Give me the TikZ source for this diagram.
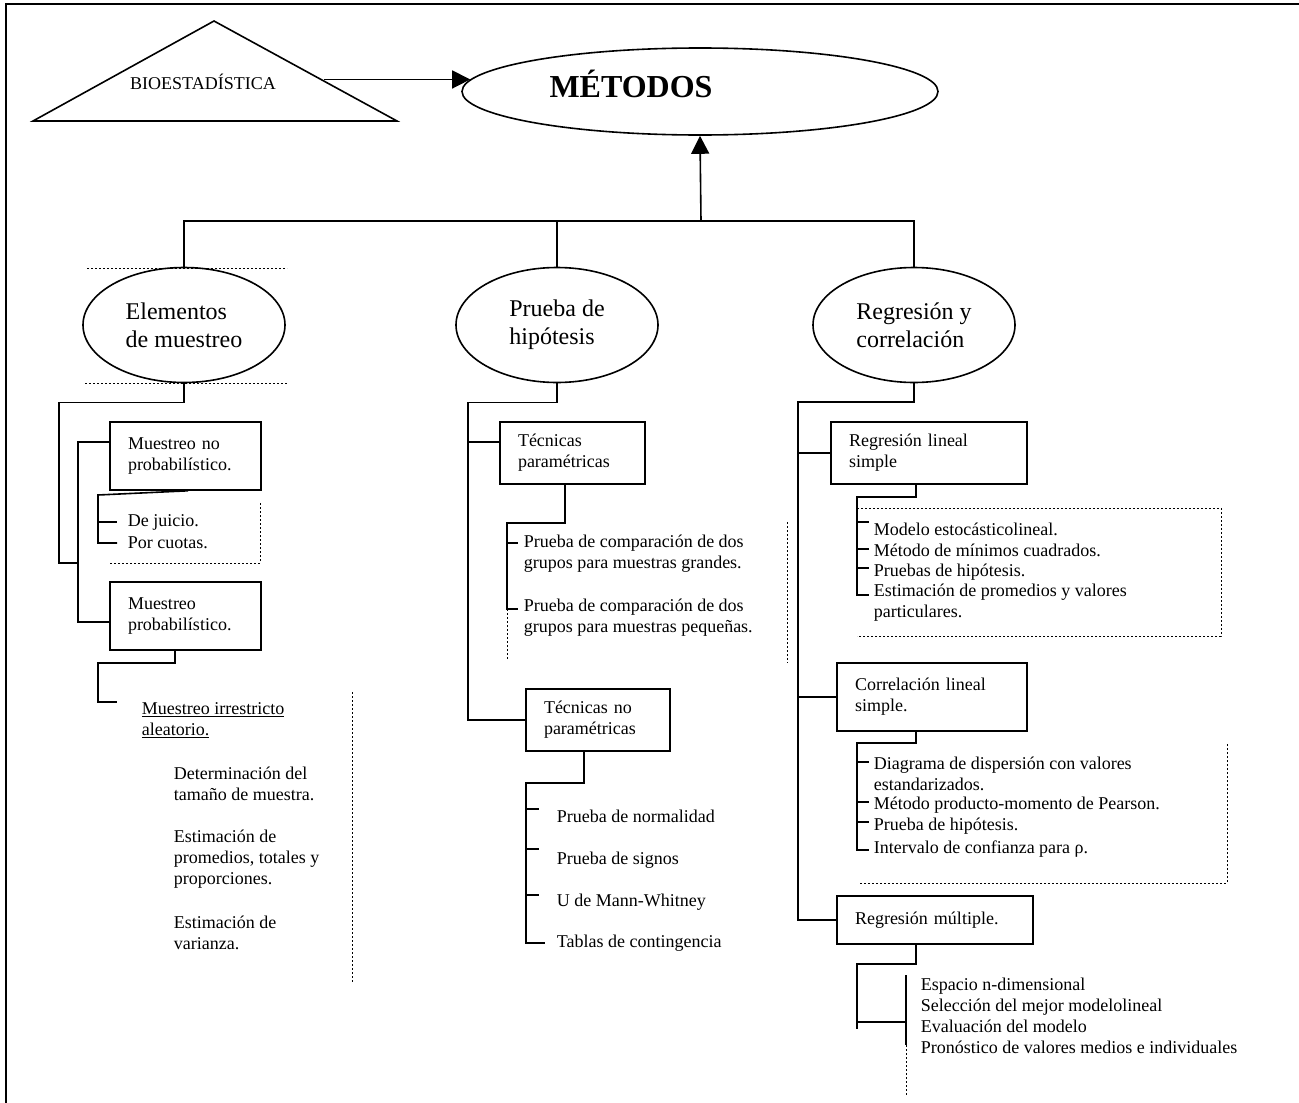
\documentclass[tikz,border=0pt]{standalone}
\usepackage{fontspec}
\setmainfont{Liberation Serif}
\usepackage{tikz}
\usetikzlibrary{arrows.meta,shapes.geometric}
\tikzset{
  oval/.style={ellipse, draw, line width=1.6pt, inner sep=0pt, align=left, minimum width=202pt, minimum height=115pt, font=\fontsize{24}{28}\selectfont},
  tbox/.style={rectangle, draw, line width=1.6pt, inner xsep=18pt, inner ysep=0pt, align=left, font=\fontsize{18}{21}\selectfont},
  item/.style={anchor=west, inner sep=0pt, align=left, font=\fontsize{18}{21}\selectfont},
  dotline/.style={line width=0.7pt, dash pattern=on 2pt off 2pt},
  arr/.style={-{Triangle[length=18pt,width=18pt]}}
}
\newcommand{\metbox}[4]{node[tbox, text width=#3, minimum height=#4](#1) {#2}}

\begin{document}
\begin{tikzpicture}[x=1pt, y=-1pt, line width=1.6pt]
\useasboundingbox (0,0) rectangle (1299,1103);
\draw[line width=2.4pt] (6,1103) -- (6,4) -- (1299,4);

% top
\draw (33,121) -- (214,21) -- (397,121) -- cycle;
\node[anchor=base, font=\fontsize{18}{20}\selectfont] (bio) at (203,89) {BIOESTADÍSTICA};
\coordinate (triR) at (324,81);
\node[ellipse, draw, minimum width=476pt, minimum height=87pt] (met) at (700,91.5) {};
\node[anchor=base, inner sep=0pt, font=\fontsize{32}{36}\selectfont\bfseries] (mettxt) at (631,97) {MÉTODOS};
\draw[arr] (met.177 -| triR) -- (met.177);

\node[oval] (elem) at (184,325) {Elementos\\de muestreo};
\node[oval] (pru) at (557,325) {Prueba de\\hipótesis};
\node[oval] (reg) at (914,325) {Regresión y\\correlación};
\coordinate (bar) at (701,221);
\draw (elem.north) |- (bar) -| (reg.north);
\draw (pru.north) -- (pru.north |- bar);
\draw[arr] (bar) -- (met.south);

% muestreo
\draw[dotline] (87,268) -- (287,268);
\draw[dotline] (85,383) -- (287,383);
\draw (185.5,456) \metbox{mnp}{Muestreo no\\probabilístico.}{115pt}{68pt};
\draw (185.5,616) \metbox{mp}{Muestreo\\probabilístico.}{115pt}{68pt};
\draw (elem.south) -- ++(0,19) -| (59,563) -- (78,563);
\draw ([yshift=14pt]mnp.west) -| (78,622) -- ([yshift=-6pt]mp.west);
\node[item] (dj) at (127,522) {De juicio.};
\node[item] (pc) at (127,543) {Por cuotas.};
\draw ([xshift=2.5pt]mnp.south) -- (98,495) |- ([xshift=-10pt]pc.west);
\draw (98,522) -- ([xshift=-10pt]dj.west);
\draw[dotline] (110,563) -| (260,502);
\draw ([xshift=-10.5pt]mp.south) -- ++(0,12) -| (98,702) -- (117,702);
\node[item] (mia) at (141,720) {\underline{Muestreo irrestricto}\\\underline{aleatorio.}};
\node[item] (dtm) at (173,783.5) {Determinación del\\tamaño de muestra.};
\node[item] (epr) at (173,859) {Estimación de\\promedios, totales y\\proporciones.};
\node[item] (evz) at (173,933) {Estimación de\\varianza.};
\draw[dotline] (352,692) -- (352,983);

% hipotesis
\draw (572.5,453) \metbox{tp}{Técnicas\\paramétricas}{109pt}{62pt};
\draw (598,720) \metbox{tnp}{Técnicas no\\paramétricas}{108pt}{62pt};
\draw (pru.south) -- ++(0,19) -| (468,720) -- (tnp.west);
\draw (468,442) -- ([yshift=11pt]tp.west);
\node[item] (pcg) at (523,554) {Prueba de comparación de dos\\grupos para muestras grandes.};
\node[item] (pcp) at (523,617.5) {Prueba de comparación de dos\\grupos para muestras pequeñas.};
\draw ([xshift=-7.5pt]tp.south) -- ++(0,38) -| (507,609) -- (518,609);
\draw (507,543) -- (518,543);
\draw[dotline] (507,609) -- (507,660);
\draw[dotline] (787,522) -- (787,663);
\node[item] (pn) at (556,816) {Prueba de normalidad};
\node[item] (ps) at (556,860) {Prueba de signos};
\node[item] (umw) at (556,902) {U de Mann-Whitney};
\node[item] (tc) at (556,943) {Tablas de contingencia};
\draw[shorten >=11pt] ([xshift=-14pt]tnp.south) -- ++(0,31) -| (526,943) -- (tc.west);
\foreach \y in {809,849,895} \draw (526,\y) -- ++(13,0);

% regresion
\draw (929,453) \metbox{rls}{Regresión lineal\\simple}{160pt}{62pt};
\draw (932,697) \metbox{cls}{Correlación lineal\\simple.}{154pt}{68pt};
\draw (935,920) \metbox{rm}{Regresión múltiple.}{160pt}{48pt};
\coordinate (rbr) at (798,402);
\draw (reg.south) |- (rbr) |- (rm.west);
\draw (rbr |- rls.west) -- (rls.west);
\draw (rbr |- cls.west) -- (cls.west);

\node[item] (mel) at (873,529) {Modelo estocásticolineal.};
\node[item] (mmc) at (873,550) {Método de mínimos cuadrados.};
\node[item] (phr) at (873,572) {Pruebas de hipótesis.};
\node[item] (epv) at (873,603) {Estimación de promedios y valores\\particulares.};
\draw ([xshift=-13pt]rls.south) -- ++(0,12) -| (857,595) -- (869,595);
\foreach \y in {522,549,568} \draw (857,\y) -- ++(12,0);
\draw[dotline] (857,508) -| (1221,636) -- (857,636);

\node[item] (ddv) at (873,773.5) {Diagrama de dispersión con valores\\estandarizados.};
\node[item] (mpp) at (873,805) {Método producto-momento de Pearson.};
\node[item] (phc) at (873,826) {Prueba de hipótesis.};
\node[item] (icr) at (873,849) {Intervalo de confianza para ρ.};
\draw ([xshift=-16pt]cls.south) -- ++(0,11) -| (857,850) -- (869,850);
\foreach \y in {762,802,822} \draw (857,\y) -- ++(12,0);
\draw[dotline] (860,883) -| (1227,743);

\node[item] (rml) at (920,1016) {Espacio n-dimensional\\Selección del mejor modelolineal\\Evaluación del modelo\\Pronóstico de valores medios e individuales};
\draw ([xshift=-19pt]rm.south) -- ++(0,19) -| (857,1029);
\draw (857,1022) -- (906,1022);
\draw (906,975) -- (906,1045);
\draw[dotline] (906,1045) -- (906,1096);
\end{tikzpicture}
\end{document}
